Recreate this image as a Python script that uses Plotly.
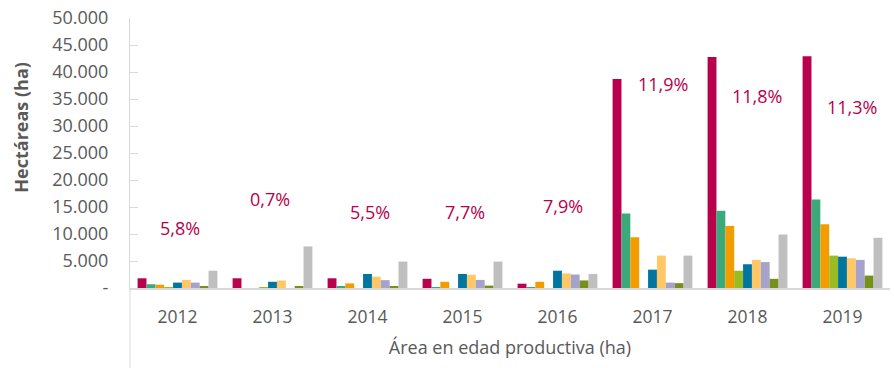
import plotly.graph_objects as go

# Área en edad productiva por año (ha), nueve series por año
years = ["2012", "2013", "2014", "2015", "2016", "2017", "2018", "2019"]

serie_1 = [1800, 1800, 1800, 1700, 800, 38700, 42800, 42900]
serie_2 = [700, 0, 200, 150, 150, 13800, 14300, 16400]
serie_3 = [600, 0, 850, 1150, 1150, 9400, 11500, 11800]
serie_4 = [100, 100, 0, 0, 0, 0, 3200, 6000]
serie_5 = [1000, 1150, 2600, 2600, 3200, 3400, 4400, 5800]
serie_6 = [1500, 1400, 2100, 2450, 2700, 6000, 5200, 5500]
serie_7 = [1000, 0, 1450, 1500, 2500, 1000, 4800, 5200]
serie_8 = [200, 200, 200, 450, 1400, 900, 1700, 2300]
serie_9 = [3200, 7700, 4900, 4900, 2600, 6000, 9900, 9300]

series = [serie_1, serie_2, serie_3, serie_4, serie_5, serie_6, serie_7, serie_8, serie_9]
colors = ["#B9004C", "#3AAA7A", "#F29C00", "#9BBB22", "#0075A0",
          "#FFC766", "#A5A3CC", "#76901C", "#BFBFBF"]

# Participación porcentual mostrada sobre cada año
pct_labels = ["5,8%", "0,7%", "5,5%", "7,7%", "7,9%", "11,9%", "11,8%", "11,3%"]
pct_label_y = [11200, 16400, 14000, 14000, 15100, 37800, 35500, 33500]
pct_label_dx = [2, -3, 2, 2, 5, 10, 9, 9]

y_tickvals = [0, 5000, 10000, 15000, 20000, 25000, 30000, 35000, 40000, 45000, 50000]
y_ticktext = ["-", "5.000", "10.000", "15.000", "20.000", "25.000",
              "30.000", "35.000", "40.000", "45.000", "50.000"]

FONT = "'Open Sans', sans-serif"
GREY = "#595959"
LINE = "#D9D9D9"

fig = go.Figure()
for i, (vals, col) in enumerate(zip(series, colors)):
    fig.add_trace(go.Bar(
        x=years, y=vals, name=f"Serie {i + 1}",
        marker=dict(color=col, line=dict(width=0)),
        showlegend=False,
    ))

# En un eje de categorías la posición de la anotación va por índice
for idx, (txt, yy, dx) in enumerate(zip(pct_labels, pct_label_y, pct_label_dx)):
    fig.add_annotation(
        x=idx, y=yy, xref="x", yref="y", text=txt, showarrow=False,
        xshift=dx, font=dict(family=FONT, size=18, color="#B9004C"),
    )

# Título del eje vertical
fig.add_annotation(
    x=-0.143, y=0.595, xref="paper", yref="paper", text="<b>Hectáreas (ha)</b>",
    textangle=-90, showarrow=False, xanchor="center", yanchor="middle",
    font=dict(family=FONT, size=18, color=GREY),
)

fig.update_layout(
    width=894, height=368,
    margin=dict(l=130, r=4, t=18, b=80, autoexpand=False),
    paper_bgcolor="white", plot_bgcolor="white",
    barmode="group", bargap=0.16, bargroupgap=0,
    font=dict(family=FONT, size=18, color=GREY),
    xaxis=dict(
        type="category", range=[-0.5, len(years) - 0.5],
        showline=True, linecolor=LINE, linewidth=2,
        ticks="", showgrid=False, zeroline=False,
        ticklabelstandoff=12,
        tickfont=dict(family=FONT, size=17.5, color=GREY),
        title=dict(text="Área en edad productiva (ha)", standoff=14,
                   font=dict(family=FONT, size=18, color=GREY)),
    ),
    yaxis=dict(
        range=[0, 50000], tickvals=y_tickvals, ticktext=y_ticktext,
        showline=True, linecolor=LINE, linewidth=1,
        ticks="inside", ticklen=8, tickcolor=LINE,
        showgrid=False, zeroline=False,
        ticklabelstandoff=17,
        tickfont=dict(family=FONT, size=18, color=GREY),
    ),
)

# Línea vertical izquierda que baja hasta el borde inferior
fig.add_shape(type="line", xref="paper", yref="paper",
              x0=0, x1=0, y0=0, y1=-80 / 270,
              line=dict(color=LINE, width=1))

fig.write_html("out.html")
